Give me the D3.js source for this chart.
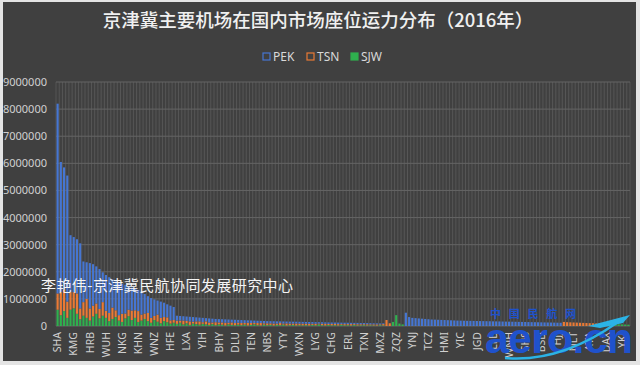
<!DOCTYPE html>
<html>
<head>
<meta charset="utf-8">
<script src="https://cdn.jsdelivr.net/npm/d3@7"></script>
<style>
  html, body { margin: 0; padding: 0; background: #e4e4e4; }
  svg { display: block; }
</style>
</head>
<body>
<div id="chart"></div>
<script>
// seats per destination, in thousands
const UNIT = 1000;

const pek = [
  7000,4800,4500,4650,2100,2030,2000,2400,1500,1350,1670,1530,1370,1470,1100,1320,1320,1040,1070,1200,
  1110,1060,880,850,800,780,830,720,620,730,610,520,600,530,480,540,480,
  180,170,160,160,170,170,150,140,160,120,
  150,140,120,125,120,125,120,105,120,105,
  110,105,90,95,90,85,80,85,80,78,
  85,82,60,78,70,72,70,68,70,67,
  70,68,65,62,50,58,55,57,55,53,
  56,49,52,50,48,46,49,47,45,43,46,
  40,38,35,30,0,0,
  0,0,0,0,
  490,330,300,290,280,270,260,250,240,235,230,225,220,215,210,205,200,198,195,192,
  190,188,185,182,180,178,175,172,170,168,165,162,160,158,155,152,150,148,145,142,
  140,138,135,132,130,128,125,122,120,
  0,0,0,0,0,0,0,0,0,0,0,0,
  0,0,0,0,0,0,0,0,0
];

const tsn = [
  600,850,800,600,650,600,750,400,500,700,450,400,380,350,500,260,300,420,250,200,
  300,180,240,350,280,400,220,200,300,180,150,260,200,150,180,120,100,
  120,80,140,90,130,70,100,120,60,110,
  90,60,110,70,80,100,60,90,80,70,
  80,60,100,70,50,80,90,50,70,60,
  70,50,80,40,75,60,50,70,55,60,
  50,60,40,55,30,50,60,40,50,45,
  50,30,45,40,50,35,45,40,35,45,35,
  40,45,30,50,220,100,
  0,0,0,0,
  0,0,0,0,0,0,0,0,0,0,0,0,0,0,0,0,0,0,0,0,
  0,0,0,0,0,0,0,0,0,0,0,0,0,0,0,0,0,0,0,0,
  0,0,0,0,0,0,0,0,0,
  150,140,135,130,125,120,115,110,105,100,95,90,
  0,0,0,0,0,0,0,0,0
];

const sjw = [
  600,400,550,300,600,650,450,250,380,300,200,350,450,280,380,300,180,260,330,200,
  150,280,360,220,300,150,200,260,180,120,220,160,100,180,140,90,120,
  80,120,60,100,40,90,70,50,80,60,
  40,70,30,60,50,20,60,40,30,50,
  30,50,20,40,60,30,20,50,30,40,
  20,40,30,50,20,30,40,20,30,25,
  30,20,40,25,60,30,20,35,25,30,
  20,45,25,30,20,35,20,25,30,20,25,
  20,15,30,20,0,0,
  150,400,90,60,
  0,0,0,0,0,0,0,0,0,0,0,0,0,0,0,0,0,0,0,0,
  0,0,0,0,0,0,0,0,0,0,0,0,0,0,0,0,0,0,0,0,
  0,0,0,0,0,0,0,0,0,
  0,0,0,0,0,0,0,0,0,0,0,0,
  110,90,80,75,70,65,60,55,50
];

// every fifth destination carries a label
const tickLabels = [
  "SHA","KMG","HRB","WUH","NKG","KHN","WNZ","HFE","LXA","YIH","BHY","DLU",
  "TEN","NBS","YTY","WXN","LYG","CHG","ERL","TXN","MXZ","ZQZ","YNJ","TCZ",
  "HMI","YIC","JGD","LLB","WNH","SHS","BSD","HJJ","NLT","AVA","DAX","YKI"
];
const yTicks = [0,1000000,2000000,3000000,4000000,5000000,6000000,7000000,8000000,9000000];

const seriesKeys = ["PEK", "TSN", "SJW"];
const colors = { PEK: "#4676d2", TSN: "#ea7a35", SJW: "#2fb04e" };

const width = 640, height = 365;
const margin = { left: 56, right: 10, top: 82, bottom: 39 };

const rows = pek.map((v, i) => ({ i, PEK: v * UNIT, TSN: tsn[i] * UNIT, SJW: sjw[i] * UNIT }));

const svg = d3.select("#chart").append("svg")
    .attr("width", width)
    .attr("height", height);

// chart frame
svg.append("rect")
    .attr("x", 3).attr("y", 2)
    .attr("width", 633).attr("height", 359)
    .attr("fill", "#404040");

const x = d3.scaleBand()
    .domain(d3.range(rows.length))
    .range([margin.left, width - margin.right]);

const y = d3.scaleLinear()
    .domain([0, 9000000])
    .range([height - margin.bottom, margin.top]);

// vertical gridlines, one per category boundary
svg.append("g")
    .attr("stroke", "#5c5c5c")
    .attr("stroke-width", 0.8)
    .selectAll("line")
    .data(d3.range(rows.length + 1))
    .join("line")
    .attr("x1", d => margin.left + d * x.step())
    .attr("x2", d => margin.left + d * x.step())
    .attr("y1", y(9000000))
    .attr("y2", y(0));

// horizontal gridlines
svg.append("g")
    .attr("stroke", "#646464")
    .attr("stroke-width", 1)
    .selectAll("line")
    .data(yTicks)
    .join("line")
    .attr("x1", margin.left)
    .attr("x2", width - margin.right)
    .attr("y1", d => y(d))
    .attr("y2", d => y(d));

// stacked bars
const stacked = d3.stack().keys(["SJW", "TSN", "PEK"])(rows);
const barW = x.bandwidth() * 0.66;
const barOff = (x.bandwidth() - barW) / 2;

svg.append("g")
    .selectAll("g")
    .data(stacked)
    .join("g")
    .attr("fill", d => colors[d.key])
    .selectAll("rect")
    .data(d => d.filter(s => s[1] > s[0]))
    .join("rect")
    .attr("x", d => x(d.data.i) + barOff)
    .attr("width", barW)
    .attr("y", d => y(d[1]))
    .attr("height", d => y(d[0]) - y(d[1]));

// y axis
const yAxis = svg.append("g")
    .attr("transform", `translate(${margin.left - 6},0)`)
    .call(d3.axisLeft(y).tickValues(yTicks).tickFormat(d3.format("d")).tickSize(0));
yAxis.select(".domain").remove();
yAxis.selectAll("text")
    .attr("fill", "#d0d0d0")
    .style("font", "11px 'Noto Sans', sans-serif");

// x axis
const xAxis = svg.append("g")
    .attr("transform", `translate(0,${y(0)})`)
    .call(d3.axisBottom(x)
        .tickValues(d3.range(0, rows.length, 5))
        .tickFormat(i => tickLabels[i / 5])
        .tickSize(0));
xAxis.select(".domain").remove();
xAxis.selectAll("text")
    .attr("transform", "rotate(-90)")
    .attr("text-anchor", "end")
    .attr("x", -6)
    .attr("y", 0)
    .attr("dy", "0.35em")
    .attr("fill", "#d0d0d0")
    .style("font", "10.5px 'Noto Sans', sans-serif");

// title
svg.append("text")
    .attr("x", 318)
    .attr("y", 27)
    .attr("text-anchor", "middle")
    .attr("fill", "#f0f0f0")
    .style("font", "500 18.5px 'Noto Sans CJK SC', sans-serif")
    .text("京津冀主要机场在国内市场座位运力分布（2016年）");

// legend
const legend = svg.append("g")
    .selectAll("g")
    .data(seriesKeys)
    .join("g")
    .attr("transform", (d, i) => `translate(${263 + i * 44},0)`);

legend.append("rect")
    .attr("x", 0).attr("y", 53)
    .attr("width", 7).attr("height", 7)
    .attr("fill", d => d === "SJW" ? colors.SJW : "#404040")
    .attr("stroke", d => colors[d])
    .attr("stroke-width", 1.2);

legend.append("text")
    .attr("x", 10)
    .attr("y", 61)
    .attr("fill", "#d9d9d9")
    .style("font", "12px 'Noto Sans', sans-serif")
    .text(d => d);

// author watermark
svg.append("text")
    .attr("x", 41)
    .attr("y", 291)
    .attr("textLength", 252)
    .attr("lengthAdjust", "spacing")
    .attr("fill", "#f4f4f4")
    .style("font", "15px 'Noto Sans CJK SC', sans-serif")
    .text("李艳伟-京津冀民航协同发展研究中心");

// aero.cn logo
const logo = svg.append("g");
logo.append("text")
    .attr("x", 490)
    .attr("y", 318)
    .attr("textLength", 86)
    .attr("lengthAdjust", "spacing")
    .attr("fill", "#1f52cc")
    .style("font", "bold 11px 'Noto Sans CJK SC', sans-serif")
    .text("中国民航网");
logo.append("text")
    .attr("x", 485)
    .attr("y", 353)
    .attr("textLength", 148)
    .attr("lengthAdjust", "spacing")
    .attr("fill", "#1f52cc")
    .style("font", "bold 43px 'Liberation Sans', sans-serif")
    .text("aero.cn");
logo.append("path")
    .attr("d", "M505,358 Q560,363 618,322")
    .attr("fill", "none")
    .attr("stroke", "#2bb3e6")
    .attr("stroke-width", 2.5);
logo.append("path")
    .attr("d", "M588,326 L630,315 L623,323 L600,328 Z")
    .attr("fill", "#2bb3e6");
</script>
</body>
</html>
